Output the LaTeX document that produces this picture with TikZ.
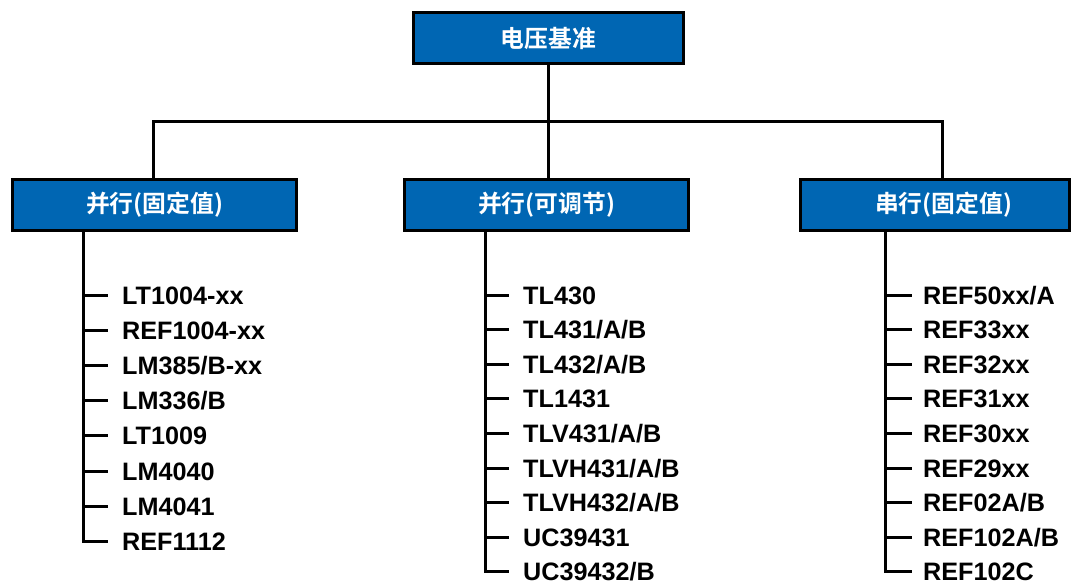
\documentclass[tikz,border=0pt]{standalone}
\usepackage{fontspec}
\setmainfont{Liberation Sans}
\newfontfamily\cjk{Noto Sans CJK SC}[BoldFont={* Bold}]
\definecolor{boxblue}{RGB}{0,102,179}
\tikzset{
  catbox/.style={draw=black, line width=3pt, fill=boxblue, text=white,
    minimum height=51pt, inner sep=0pt, font=\cjk\bfseries\fontsize{23.8pt}{26pt}\selectfont},
  conn/.style={draw=black, line width=3pt, line join=miter},
  item/.style={anchor=west, inner sep=0pt, text height=18pt, text depth=0pt,
    font=\bfseries\fontsize{25.2pt}{28pt}\selectfont}
}
\begin{document}
\begin{tikzpicture}[x=1pt,y=-1pt]
\useasboundingbox (0,0) rectangle (1073,583);
% boxes
\node[catbox, minimum width=270pt] (T) at (548.5,38) {电压基准};
\node[catbox, minimum width=284pt] (A) at (154.5,205) {并行(固定值)};
\node[catbox, minimum width=284pt] (B) at (546.5,205) {并行(可调节)};
\node[catbox, minimum width=269pt] (C) at (935,205) {\hspace*{17pt}串行(固定值)};
% junctions
\coordinate (ja) at (153,122);
\coordinate (jb) at (548,122);
\coordinate (jc) at (942,122);
\draw[conn] (T.south -| jb) -- (jb);
\draw[conn] (A.north -| ja) -- (ja) -- (jc) -- (C.north -| jc);
\draw[conn] (B.north -| jb) -- (jb);
% left list
\coordinate (xa) at (83,0);
\foreach \t [count=\i from 0] in {LT1004-xx,REF1004-xx,LM385/B-xx,LM336/B,LT1009,LM4040,LM4041,REF1112}{
  \node[item] (a\i) at (122,295+35.2*\i) {\t};
  \draw[conn] ([xshift=-39pt]a\i.west) -- ([xshift=-14pt]a\i.west);
}
\draw[conn] (A.south -| xa) |- ([xshift=-14pt]a7.west);
% middle list
\coordinate (xb) at (485,0);
\foreach \t [count=\i from 0] in {TL430,TL431/A/B,TL432/A/B,TL1431,TLV431/A/B,TLVH431/A/B,TLVH432/A/B,UC39431,UC39432/B}{
  \node[item] (b\i) at (523,295+34.6*\i) {\t};
  \draw[conn] ([xshift=-38pt]b\i.west) -- ([xshift=-14pt]b\i.west);
}
\draw[conn] (B.south -| xb) |- ([xshift=-14pt]b8.west);
% right list
\coordinate (xc) at (885,0);
\foreach \t [count=\i from 0] in {REF50xx/A,REF33xx,REF32xx,REF31xx,REF30xx,REF29xx,REF02A/B,REF102A/B,REF102C}{
  \node[item] (c\i) at (923,295+34.6*\i) {\t};
  \draw[conn] ([xshift=-38pt]c\i.west) -- ([xshift=-11pt]c\i.west);
}
\draw[conn] (C.south -| xc) |- ([xshift=-11pt]c8.west);
\end{tikzpicture}
\end{document}
